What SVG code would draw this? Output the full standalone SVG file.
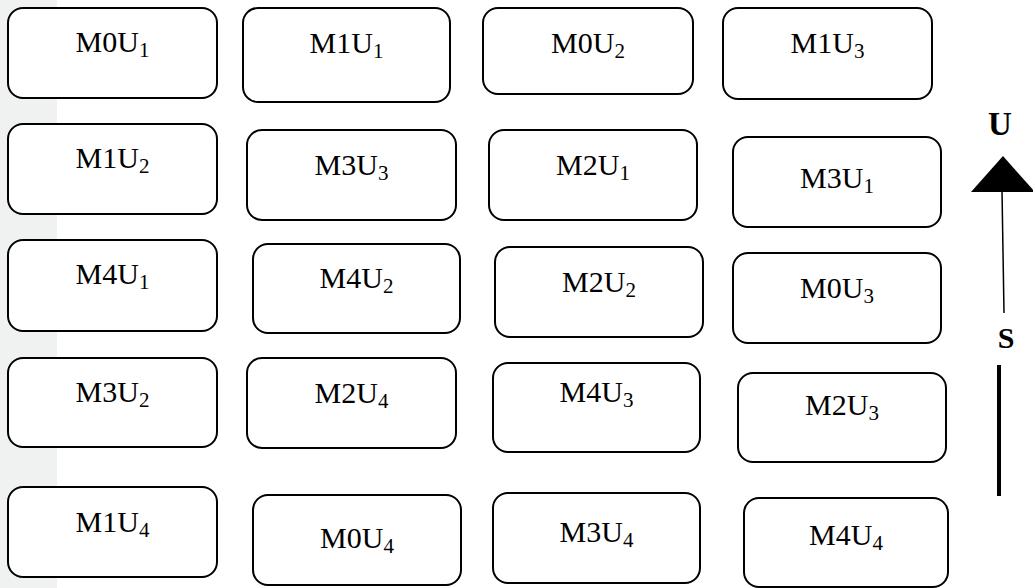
<svg xmlns="http://www.w3.org/2000/svg" width="1033" height="588" viewBox="0 0 1033 588">
<style>
.box{fill:#fff;stroke:#000;stroke-width:2}
.lbl{font-family:"Liberation Serif","Times New Roman",serif;font-size:30px;fill:#000;text-anchor:middle}
.sub{font-size:21px}
.ax{font-family:"Liberation Serif","Times New Roman",serif;font-weight:bold;fill:#000;text-anchor:middle}
</style>
<rect x="0" y="0" width="57" height="588" fill="#f0f1f1"/>
<g id="n-M0U1"><rect class="box" x="8" y="8" width="209" height="90" rx="15"/><text class="lbl" x="112.5" y="52">M0U<tspan class="sub" dy="5">1</tspan></text></g>
<g id="n-M1U1"><rect class="box" x="243" y="8" width="207" height="94" rx="15"/><text class="lbl" x="346.5" y="53">M1U<tspan class="sub" dy="5">1</tspan></text></g>
<g id="n-M0U2"><rect class="box" x="483" y="8" width="210" height="86" rx="15"/><text class="lbl" x="588" y="53">M0U<tspan class="sub" dy="5">2</tspan></text></g>
<g id="n-M1U3"><rect class="box" x="723" y="8" width="209" height="91" rx="15"/><text class="lbl" x="827.5" y="53">M1U<tspan class="sub" dy="5">3</tspan></text></g>

<g id="n-M1U2"><rect class="box" x="8" y="124" width="209" height="90" rx="15"/><text class="lbl" x="112.5" y="168">M1U<tspan class="sub" dy="5">2</tspan></text></g>
<g id="n-M3U3"><rect class="box" x="247" y="130" width="209" height="90" rx="15"/><text class="lbl" x="351.5" y="175">M3U<tspan class="sub" dy="5">3</tspan></text></g>
<g id="n-M2U1"><rect class="box" x="489" y="130" width="208" height="90" rx="15"/><text class="lbl" x="593" y="175">M2U<tspan class="sub" dy="5">1</tspan></text></g>
<g id="n-M3U1"><rect class="box" x="733" y="137" width="208" height="90" rx="15"/><text class="lbl" x="837" y="188">M3U<tspan class="sub" dy="5">1</tspan></text></g>

<g id="n-M4U1"><rect class="box" x="8" y="240" width="209" height="91" rx="15"/><text class="lbl" x="112.5" y="284">M4U<tspan class="sub" dy="5">1</tspan></text></g>
<g id="n-M4U2"><rect class="box" x="253" y="244" width="207" height="89" rx="15"/><text class="lbl" x="356.5" y="288">M4U<tspan class="sub" dy="5">2</tspan></text></g>
<g id="n-M2U2"><rect class="box" x="495" y="247" width="208" height="90" rx="15"/><text class="lbl" x="599" y="292">M2U<tspan class="sub" dy="5">2</tspan></text></g>
<g id="n-M0U3"><rect class="box" x="733" y="253" width="208" height="90" rx="15"/><text class="lbl" x="837" y="298">M0U<tspan class="sub" dy="5">3</tspan></text></g>

<g id="n-M3U2"><rect class="box" x="8" y="358" width="209" height="89" rx="15"/><text class="lbl" x="112.5" y="402">M3U<tspan class="sub" dy="5">2</tspan></text></g>
<g id="n-M2U4"><rect class="box" x="247" y="358" width="209" height="90" rx="15"/><text class="lbl" x="351.5" y="403">M2U<tspan class="sub" dy="5">4</tspan></text></g>
<g id="n-M4U3"><rect class="box" x="493" y="363" width="207" height="89" rx="15"/><text class="lbl" x="596.5" y="402">M4U<tspan class="sub" dy="5">3</tspan></text></g>
<g id="n-M2U3"><rect class="box" x="738" y="373" width="208" height="89" rx="15"/><text class="lbl" x="842" y="415">M2U<tspan class="sub" dy="5">3</tspan></text></g>

<g id="n-M1U4"><rect class="box" x="8" y="487" width="209" height="90" rx="15"/><text class="lbl" x="112.5" y="532">M1U<tspan class="sub" dy="5">4</tspan></text></g>
<g id="n-M0U4"><rect class="box" x="253" y="495" width="208" height="90" rx="15"/><text class="lbl" x="357" y="548">M0U<tspan class="sub" dy="5">4</tspan></text></g>
<g id="n-M3U4"><rect class="box" x="493" y="493" width="207" height="90" rx="15"/><text class="lbl" x="596.5" y="542">M3U<tspan class="sub" dy="5">4</tspan></text></g>
<g id="n-M4U4"><rect class="box" x="744" y="498" width="204" height="89" rx="15"/><text class="lbl" x="846" y="545">M4U<tspan class="sub" dy="5">4</tspan></text></g>

<g id="connectors">
<polygon points="1003,156 971,192 1035,192" fill="#000"/>
<line x1="1002" y1="190" x2="1004" y2="313" stroke="#000" stroke-width="1.5"/>
<line x1="999" y1="365" x2="999" y2="496" stroke="#000" stroke-width="4"/>
<text class="ax" x="1000" y="135" font-size="33">U</text>
<text class="ax" x="1006" y="348" font-size="30">S</text>
</g>
</svg>
